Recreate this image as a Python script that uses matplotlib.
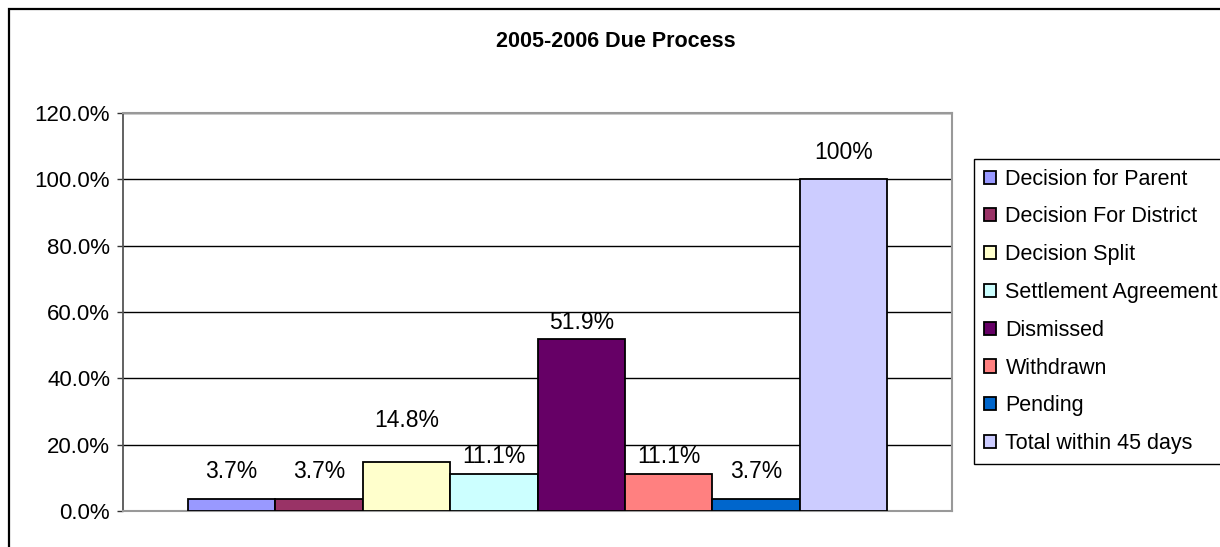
import numpy as np
import matplotlib
matplotlib.use("Agg")
import matplotlib.pyplot as plt
from matplotlib.patches import Rectangle
from matplotlib.ticker import FuncFormatter

plt.rcParams['font.family'] = ['Liberation Sans', 'DejaVu Sans']

# data
title = "2005-2006 Due Process"
series_names = ["Decision for Parent", "Decision For District", "Decision Split",
                "Settlement Agreement", "Dismissed", "Withdrawn", "Pending",
                "Total within 45 days"]
values = [3.7, 3.7, 14.8, 11.1, 51.9, 11.1, 3.7, 100.0]
value_labels = ["3.7%", "3.7%", "14.8%", "11.1%", "51.9%", "11.1%", "3.7%", "100%"]
y_ticks = [0, 20, 40, 60, 80, 100, 120]

# excel 2003 palette
colors = ["#9999FF", "#993366", "#FFFFCC", "#CCFFFF", "#660066", "#FF8080",
          "#0066CC", "#CCCCFF"]
# label offset above bar top, in pixels (labels were hand placed)
label_offsets = [27.5, 27.5, 41, 17.5, 16, 17.5, 27.5, 26.5]

W, H = 1220, 547
fig = plt.figure(figsize=(W / 100, H / 100), dpi=100)
ax = fig.add_axes([123 / W, (H - 511) / H, 829 / W, 398 / H])

x = np.arange(len(values))
for i, v in enumerate(values):
    ax.bar(x[i], v, width=1.0, color=colors[i], edgecolor="black",
           linewidth=1.3, label=series_names[i], zorder=3)
    ax.annotate(value_labels[i], (x[i], v), xytext=(0, label_offsets[i] * 0.72),
                textcoords="offset points", ha="center", va="center",
                fontsize=16.5, color="black", zorder=4)

gap = 0.744
ax.set_xlim(-0.5 - gap, len(values) - 0.5 + gap)
ax.set_ylim(0, 120)
ax.set_yticks(y_ticks)
ax.yaxis.set_major_formatter(FuncFormatter(lambda v, p: "%.1f%%" % v))
ax.tick_params(axis="y", direction="out", length=4.3, width=1, color="#333333",
               pad=5, labelsize=16)
ax.set_xticks([])
ax.grid(axis="y", color="black", linewidth=1, zorder=0)
ax.set_axisbelow(True)

for side in ["top", "right", "bottom"]:
    ax.spines[side].set_color("#999999")
    ax.spines[side].set_linewidth(1.5)
ax.spines["left"].set_color("#555555")
ax.spines["left"].set_linewidth(1.3)

fig.text(616 / W, 1 - 47 / H, title, ha="center", va="baseline",
         fontsize=15.5, fontweight="bold")

leg = fig.legend(loc="upper left", bbox_to_anchor=(974 / W, 1 - 159 / H),
                 bbox_transform=fig.transFigure, fontsize=15.5,
                 frameon=True, fancybox=False, framealpha=1,
                 edgecolor="black", handlelength=0.56, handleheight=0.56,
                 handletextpad=0.45, labelspacing=0.78, borderpad=0.45,
                 borderaxespad=0)
leg.get_frame().set_linewidth(1)

# outer chart-area border (cut off at right and bottom in the original)
fig.patches.append(Rectangle((8.5 / W, -0.1), 1.2, 1 - 9 / H + 0.1,
                             transform=fig.transFigure, fill=False,
                             edgecolor="black", linewidth=1.6))

fig.savefig("out.png", dpi=100)
